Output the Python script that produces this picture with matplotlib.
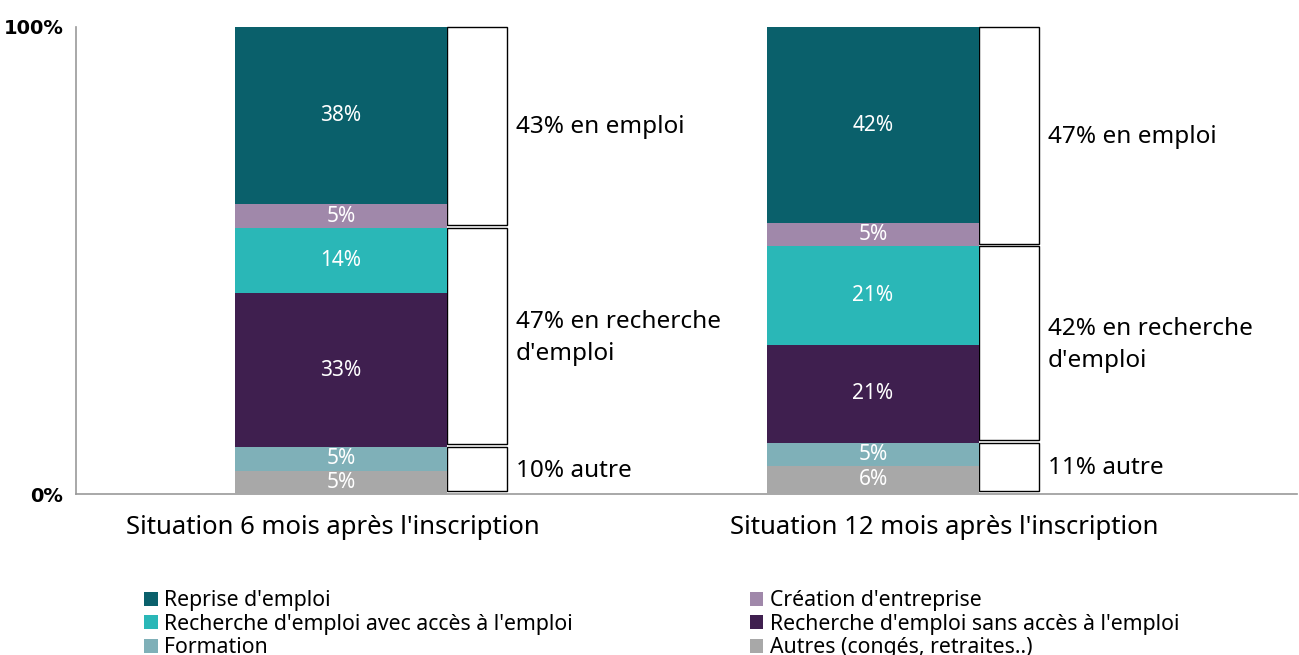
import matplotlib.pyplot as plt

plt.rcParams['font.family'] = ['Noto Sans', 'DejaVu Sans']

situations = ["Situation 6 mois après l'inscription", "Situation 12 mois après l'inscription"]
categories = ["Autres (congés, retraites..)", "Formation", "Recherche d'emploi sans accès à l'emploi",
              "Recherche d'emploi avec accès à l'emploi", "Création d'entreprise", "Reprise d'emploi"]
colors = ["#a8a8a8", "#7fb0b8", "#3f1f4f", "#2ab7b7", "#a088aa", "#0a606b"]
values_6m = [5, 5, 33, 14, 5, 38]
values_12m = [6, 5, 21, 21, 5, 42]

# groups shown with the boxes on the right of each bar
group_labels_6m = ["10% autre", "47% en recherche\nd'emploi", "43% en emploi"]
group_labels_12m = ["11% autre", "42% en recherche\nd'emploi", "47% en emploi"]
group_values_6m = [10, 47, 43]
group_values_12m = [11, 42, 47]

fig = plt.figure(figsize=(12.99, 6.55), dpi=100)
ax = fig.add_axes([0.0585, 0.2458, 0.94, 0.713])

x = [0, 1]
width = 0.398
box_w = 0.113
handles = {}
for xi, vals in zip(x, [values_6m, values_12m]):
    bottom = 0
    for cat, col, v in zip(categories, colors, vals):
        b = ax.bar(xi, v, width, bottom=bottom, color=col, zorder=3)
        handles[cat] = b
        ax.text(xi, bottom + v / 2, f"{v}%", ha='center', va='center',
                color='white', fontsize=15, zorder=4)
        bottom += v

for xi, gvals, glabels in zip(x, [group_values_6m, group_values_12m],
                              [group_labels_6m, group_labels_12m]):
    bottom = 0
    for v, lab in zip(gvals, glabels):
        ax.bar(xi + width / 2 + box_w / 2, v - 0.6, box_w, bottom=bottom + 0.6,
               color='white', edgecolor='black', linewidth=1, zorder=2, clip_on=False)
        ax.text(xi + 0.329, bottom + v / 2, lab, ha='left', va='center',
                fontsize=17.5, linespacing=1.45)
        bottom += v

ax.set_xlim(-0.498, 1.797)
ax.set_ylim(0, 100)
ax.set_xticks([])
ax.set_yticks([0, 100])
ax.set_yticklabels(['0%', '100%'], fontsize=14, fontweight='bold', family='DejaVu Sans')
ax.tick_params(axis='y', length=0, pad=9)
for s in ['top', 'right']:
    ax.spines[s].set_visible(False)
for s in ['left', 'bottom']:
    ax.spines[s].set_color('#999999')
    ax.spines[s].set_linewidth(1.2)

for xc, lab in zip([-0.015, 1.133], situations):
    ax.text(xc, -0.0707, lab, transform=ax.get_xaxis_transform(),
            ha='center', va='center', fontsize=18.5)

left_cats = ["Reprise d'emploi", "Recherche d'emploi avec accès à l'emploi", "Formation"]
right_cats = ["Création d'entreprise", "Recherche d'emploi sans accès à l'emploi", "Autres (congés, retraites..)"]
for cats, xa in [(left_cats, 0.111), (right_cats, 0.577)]:
    fig.legend([handles[c] for c in cats], cats, loc='upper left',
               bbox_to_anchor=(xa, 0.099), frameon=False, fontsize=15.3,
               handlelength=0.65, handleheight=0.65, handletextpad=0.3,
               labelspacing=0.12, borderpad=0, borderaxespad=0)

fig.savefig('out.png', dpi=100)
